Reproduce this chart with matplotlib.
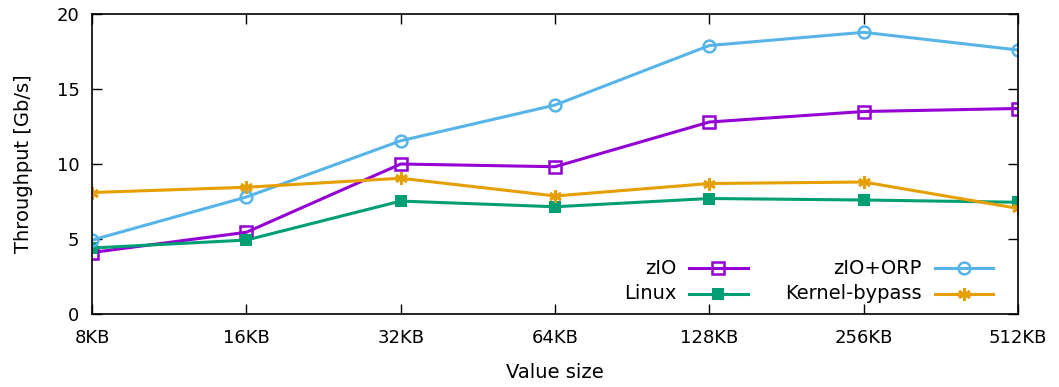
import numpy as np
import matplotlib
matplotlib.use("Agg")
import matplotlib.pyplot as plt
from matplotlib.lines import Line2D

# Throughput per value size (Gb/s)
sizes = ["8KB", "16KB", "32KB", "64KB", "128KB", "256KB", "512KB"]
zio = [4.1, 5.45, 10.0, 9.82, 12.8, 13.5, 13.7]
linux = [4.4, 4.93, 7.53, 7.15, 7.7, 7.6, 7.45]
zio_orp = [4.93, 7.8, 11.55, 13.93, 17.9, 18.78, 17.6]
kbypass = [8.1, 8.45, 9.05, 7.87, 8.7, 8.8, 7.04]

series = [
    ("zIO", zio, "#9400d3", dict(marker="s", mfc="none", ms=8, mew=1.8)),
    ("Linux", linux, "#009e73", dict(marker="s", ms=9, mew=0)),
    ("zIO+ORP", zio_orp, "#56b4e9", dict(marker="o", mfc="none", ms=8.5, mew=1.8)),
    ("Kernel-bypass", kbypass, "#e69f00", dict(marker=(6, 2, 0), ms=9, mew=2.0)),
]

plt.rcParams["font.family"] = "DejaVu Sans"
plt.rcParams["font.size"] = 13

fig = plt.figure(figsize=(10.59, 3.87), dpi=100)
ax = fig.add_axes([0.0869, 0.1886, 0.8744, 0.7752])

x = np.arange(len(sizes))
for name, vals, col, style in series:
    ax.plot(x, vals, color=col, lw=2.2, **style)

ax.set_xlim(0, len(sizes) - 1)
ax.set_ylim(0, 20)
ax.set_xticks(x)
ax.set_xticklabels(sizes)
ax.set_yticks([0, 5, 10, 15, 20])
ax.tick_params(axis="both", direction="in", length=7, width=1, top=True,
               right=True, labelsize=13)
ax.tick_params(axis="x", pad=11)
ax.tick_params(axis="y", pad=9)
for s in ax.spines.values():
    s.set_linewidth(1.2)
ax.set_xlabel("Value size", fontsize=14, labelpad=11)
ax.set_ylabel("Throughput [Gb/s]", fontsize=14, labelpad=17)

# gnuplot-style key: right-aligned text followed by a line sample
key_pos = [(0.631, 0.153), (0.631, 0.067), (0.896, 0.153), (0.896, 0.067)]
for (name, vals, col, style), (tx, ty) in zip(series, key_pos):
    ax.text(tx, ty, name, transform=ax.transAxes, ha="right", va="center",
            fontsize=14)
    ax.add_line(Line2D([tx + 0.014, tx + 0.077], [ty, ty], color=col, lw=2.2,
                       transform=ax.transAxes, clip_on=False))
    ax.add_line(Line2D([tx + 0.0455], [ty], color=col, lw=0,
                       transform=ax.transAxes, clip_on=False, **style))

fig.savefig("out.png", dpi=100)
